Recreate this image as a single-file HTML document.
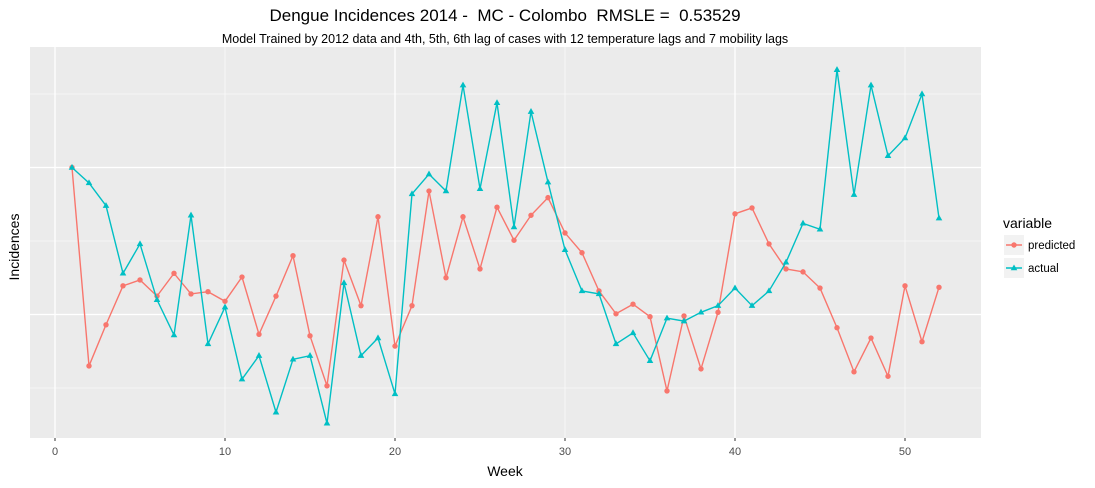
<!DOCTYPE html>
<html><head><meta charset="utf-8"><style>
body{margin:0;background:#fff;font-family:"Liberation Sans",sans-serif;}
svg text{font-family:"Liberation Sans",sans-serif;}
</style></head><body>
<svg id="c" width="1095" height="483">
<text x="505" y="21" text-anchor="middle" font-size="17" fill="#000" style="white-space:pre" xml:space="preserve">Dengue Incidences 2014 -  MC - Colombo  RMSLE =  0.53529</text>
<text x="505" y="43" text-anchor="middle" font-size="12.5" fill="#000">Model Trained by 2012 data and 4th, 5th, 6th lag of cases with 12 temperature lags and 7 mobility lags</text>
<rect x="30" y="47" width="951" height="391" fill="#ebebeb"/>
<g id="grid"></g>
<g id="series"></g>
<g id="xaxis"></g>
<text x="505" y="476" text-anchor="middle" font-size="14">Week</text>
<text transform="translate(19,247) rotate(-90)" text-anchor="middle" font-size="14">Incidences</text>
<g>
<text x="1003" y="228" font-size="14">variable</text>
<g>
<rect x="1004" y="235" width="20" height="20" fill="#f2f2f2"/>
<line x1="1006" y1="245" x2="1022" y2="245" stroke="#f8766d" stroke-width="1.5"/>
<circle cx="1014" cy="245" r="2.7" fill="#f8766d"/>
<text x="1028" y="249" font-size="11.5">predicted</text></g>
<g>
<rect x="1004" y="258" width="20" height="20" fill="#f2f2f2"/>
<line x1="1006" y1="268" x2="1022" y2="268" stroke="#00bfc4" stroke-width="1.5"/>
<polygon points="1014,264.5 1017.3,270.2 1010.7,270.2" fill="#00bfc4"/>
<text x="1028" y="272" font-size="11.5">actual</text></g>
</g>
</svg>
<script>
const weeks=[];for(let i=1;i<=52;i++)weeks.push(i);
const predicted=[30.0,3.0,8.6,13.9,14.7,12.5,15.6,12.8,13.1,11.8,15.1,7.3,12.5,18.0,7.1,0.3,17.4,11.2,23.3,5.7,11.2,26.8,15.0,23.3,16.2,24.6,20.1,23.5,25.9,21.1,18.4,13.2,10.1,11.4,9.7,-0.4,9.8,2.6,10.3,23.7,24.5,19.6,16.2,15.8,13.6,8.2,2.2,6.8,1.6,13.9,6.3,13.7];
const actual=[30.0,27.9,24.8,15.6,19.6,12.0,7.2,23.5,6.0,11.0,1.2,4.4,-3.3,3.9,4.4,-4.8,14.3,4.4,6.8,-0.8,26.4,29.1,26.8,41.2,27.1,38.8,21.9,37.6,28.0,18.8,13.2,12.8,6.0,7.5,3.7,9.5,9.1,10.3,11.2,13.6,11.2,13.2,17.1,22.4,21.6,43.3,26.3,41.2,31.6,34.0,40.0,23.1];
const xTicks=[0,10,20,30,40,50];
const xs=w=>55+w*17;
const ys=v=>388-v*7.35;
const NS="http://www.w3.org/2000/svg";
function mk(tag,attrs,parent){const e=document.createElementNS(NS,tag);for(const k in attrs)e.setAttribute(k,attrs[k]);parent.appendChild(e);return e;}
const grid=document.getElementById('grid');
[0,20,40].forEach(v=>{const l=mk('line',{x1:30,x2:981,y1:ys(v),y2:ys(v),stroke:'#fff','stroke-width':0.6},grid);

});
[10,30].forEach(v=>{const l=mk('line',{x1:30,x2:981,y1:ys(v),y2:ys(v),stroke:'#fff','stroke-width':1.3},grid);

});
[10,30,50].forEach(v=>{const l=mk('line',{y1:47,y2:438,x1:xs(v),x2:xs(v),stroke:'#fff','stroke-width':0.6},grid);

});
[0,20,40].forEach(v=>{const l=mk('line',{y1:47,y2:438,x1:xs(v),x2:xs(v),stroke:'#fff','stroke-width':1.3},grid);

});
const xa=document.getElementById('xaxis');
xTicks.forEach(t=>{const tk=mk('line',{x1:xs(t),x2:xs(t),y1:438,y2:441,stroke:'#333'},xa);


const tx=mk('text',{x:xs(t),y:455,'text-anchor':'middle','font-size':11,fill:'#4d4d4d'},xa);tx.textContent=t;

});
const sg=document.getElementById('series');
function draw(vals,color,shape,name){
  const pl=mk('polyline',{points:vals.map((v,i)=>xs(weeks[i])+','+ys(v)).join(' '),fill:'none',stroke:color,'stroke-width':1.4},sg);
  
  
  vals.forEach((v,i)=>{const x=xs(weeks[i]),y=ys(v);let m;
    if(shape==='c')m=mk('circle',{cx:x,cy:y,r:2.7,fill:color},sg);
    else m=mk('polygon',{points:`${x},${y-3.6} ${x+3.3},${y+2.2} ${x-3.3},${y+2.2}`,fill:color},sg);
    
    });
}
draw(predicted,'#f8766d','c','predicted');
draw(actual,'#00bfc4','t','actual');
</script>
</body></html>
